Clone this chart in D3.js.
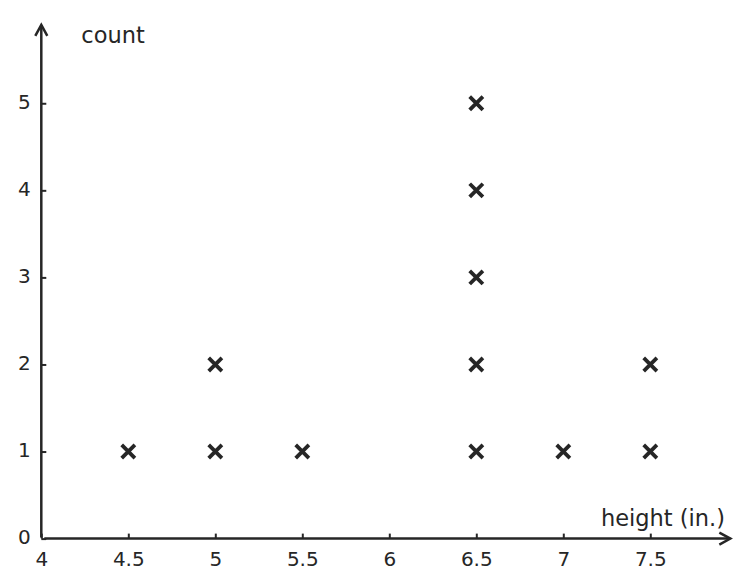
<!DOCTYPE html>
<html>
<head>
<meta charset="utf-8">
<script src="https://cdn.jsdelivr.net/npm/d3@7"></script>
<style>
  body { margin: 0; background: #fff; }
  text { font-family: "DejaVu Sans", sans-serif; fill: #262626; }
</style>
</head>
<body>
<div class="chart"></div>
<script>
var width = 754;
var height = 587;
var ink = "#262626";

// data
var heights = [4.5, 5, 5.5, 6.5, 7, 7.5];
var counts = [1, 2, 1, 5, 1, 2];
var xTicks = [4, 4.5, 5, 5.5, 6, 6.5, 7, 7.5];
var yTicks = [0, 1, 2, 3, 4, 5];
var xLabel = "height (in.)";
var yLabel = "count";

// one point per x in the dot plot
var points = [];
heights.forEach(function(h, i) {
    for (var k = 1; k <= counts[i]; k++) {
        points.push({ height: h, level: k });
    }
});

var svg = d3.select(".chart")
    .append("svg")
    .attr("width", width)
    .attr("height", height);

var xScale = d3.scaleLinear().domain([4, 8]).range([41.3, 737.3]);
var yScale = d3.scaleLinear().domain([0, 6]).range([538.6, 16.2]);

var xAxis = d3.axisBottom(xScale)
    .tickValues(xTicks)
    .tickFormat(d3.format("~g"))
    .tickSize(-5)
    .tickPadding(13);
var yAxis = d3.axisLeft(yScale)
    .tickValues(yTicks)
    .tickFormat(d3.format("d"))
    .tickSize(-5)
    .tickPadding(10.5);

var gx = svg.append("g")
    .attr("transform", "translate(0," + yScale(0) + ")")
    .call(xAxis);
var gy = svg.append("g")
    .attr("transform", "translate(" + xScale(4) + ",0)")
    .call(yAxis);

[gx, gy].forEach(function(g) {
    g.select(".domain").remove();
    g.selectAll(".tick line").attr("stroke", ink).attr("stroke-width", 2);
    g.selectAll(".tick text")
        .attr("fill", ink)
        .style("font-size", "20px")
        .style("font-family", "DejaVu Sans, sans-serif");
});
gy.selectAll(".tick text").attr("dy", "0.26em");

// axis lines with open arrow heads
var xEnd = 7.96, yEnd = 5.9;
var axisPath = d3.line();
svg.append("path")
    .attr("d", axisPath([[xScale(4) + 3, yScale(0)], [xScale(xEnd), yScale(0)]]))
    .attr("stroke", ink).attr("stroke-width", 2.5).attr("fill", "none");
svg.append("path")
    .attr("d", axisPath([[xScale(xEnd) - 11, yScale(0) - 6], [xScale(xEnd), yScale(0)], [xScale(xEnd) - 11, yScale(0) + 6]]))
    .attr("stroke", ink).attr("stroke-width", 2.5).attr("fill", "none");
svg.append("path")
    .attr("d", axisPath([[xScale(4), yScale(0) - 1], [xScale(4), yScale(yEnd)]]))
    .attr("stroke", ink).attr("stroke-width", 2.5).attr("fill", "none");
svg.append("path")
    .attr("d", axisPath([[xScale(4) - 6, yScale(yEnd) + 11], [xScale(4), yScale(yEnd)], [xScale(4) + 6, yScale(yEnd) + 11]]))
    .attr("stroke", ink).attr("stroke-width", 2.5).attr("fill", "none");

// axis titles
svg.append("text")
    .attr("x", xScale(4) + 40)
    .attr("y", 43)
    .style("font-size", "22.5px")
    .text(yLabel);
svg.append("text")
    .attr("x", 725)
    .attr("y", 526)
    .attr("text-anchor", "end")
    .style("font-size", "22.5px")
    .text(xLabel);

// x marks
var arm = 6.6;
var marks = svg.selectAll(".mark")
    .data(points)
    .enter().append("path")
    .attr("class", "mark")
    .attr("transform", function(d) {
        return "translate(" + xScale(d.height) + "," + yScale(d.level) + ")";
    })
    .attr("d", "M" + (-arm) + "," + (-arm) + "L" + arm + "," + arm +
               "M" + (-arm) + "," + arm + "L" + arm + "," + (-arm))
    .attr("stroke", ink)
    .attr("stroke-width", 3.8)
    .attr("fill", "none");
</script>
</body>
</html>
